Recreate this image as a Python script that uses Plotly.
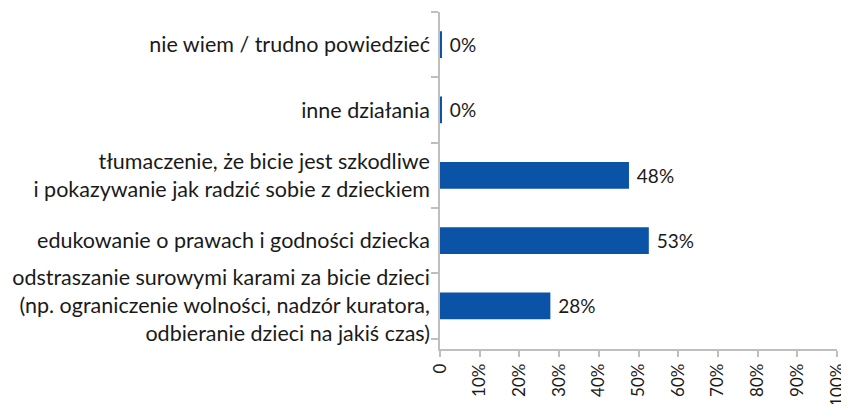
import plotly.graph_objects as go

categories = [
    "odstraszanie surowymi karami za bicie dzieci<br>(np. ograniczenie wolności, nadzór kuratora,<br>odbieranie dzieci na jakiś czas)",
    "edukowanie o prawach i godności dziecka",
    "tłumaczenie, że bicie jest szkodliwe<br>i pokazywanie jak radzić sobie z dzieckiem",
    "inne działania",
    "nie wiem / trudno powiedzieć",
]
values = [27.8, 52.6, 47.6, 0.4, 0.4]
tick_vals = [0, 10, 20, 30, 40, 50, 60, 70, 80, 90, 100]
tick_text = ["0", "10%", "20%", "30%", "40%", "50%", "60%", "70%", "80%", "90%", "100%"]

FONT = "Lato, 'Open Sans', sans-serif"
TEXT_COLOR = "#1a1a1a"
AXIS_COLOR = "#bfbfbf"

fig = go.Figure(
    go.Bar(
        x=values,
        y=categories,
        orientation="h",
        width=0.41,
        marker=dict(color="#0B53A7", line=dict(width=0)),
        texttemplate=" %{x:.0f}%",
        textposition="outside",
        cliponaxis=False,
        textfont=dict(family=FONT, size=19, color=TEXT_COLOR),
        hoverinfo="skip",
    )
)

# the page body has an 8px margin, so the figure is sized/offset accordingly
fig.update_layout(
    width=841,
    height=396,
    margin=dict(l=432, r=12, t=4, b=55, autoexpand=False),
    paper_bgcolor="white",
    plot_bgcolor="white",
    showlegend=False,
    font=dict(family=FONT, size=21, color=TEXT_COLOR),
)

fig.update_xaxes(
    range=[0, 100],
    tickvals=tick_vals,
    ticktext=tick_text,
    tickangle=-90,
    ticks="outside",
    ticklen=6,
    tickcolor=AXIS_COLOR,
    tickwidth=1.5,
    showline=True,
    linecolor=AXIS_COLOR,
    linewidth=1.5,
    showgrid=False,
    zeroline=False,
    automargin=False,
    ticklabeloverflow="allow",
    tickfont=dict(family=FONT, size=17, color=TEXT_COLOR),
    fixedrange=True,
)

fig.update_yaxes(
    type="category",
    range=[-0.66, 4.5],
    tickson="boundaries",
    ticks="outside",
    ticklen=7,
    tickcolor=AXIS_COLOR,
    tickwidth=1.5,
    showline=True,
    linecolor=AXIS_COLOR,
    linewidth=1.5,
    showgrid=False,
    zeroline=False,
    automargin=False,
    ticklabelstandoff=4,
    tickfont=dict(family=FONT, size=21.5, color=TEXT_COLOR),
    fixedrange=True,
)

fig.write_html("out.html")
